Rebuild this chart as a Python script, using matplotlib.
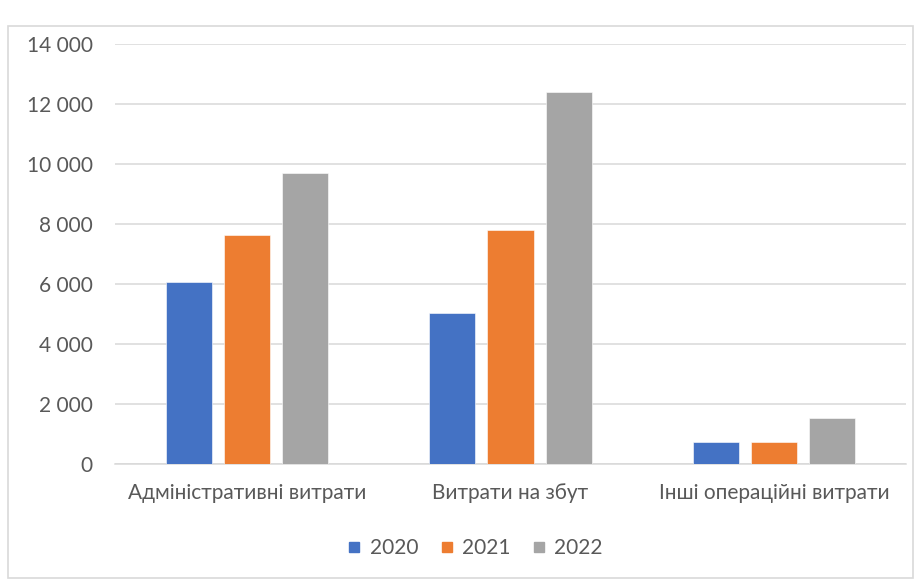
import matplotlib
matplotlib.use("Agg")
import matplotlib.pyplot as plt
import numpy as np
from matplotlib.lines import Line2D
from matplotlib.patches import Rectangle
from matplotlib.ticker import FuncFormatter

categories = ["Адміністративні витрати", "Витрати на збут", "Інші операційні витрати"]
years = ["2020", "2021", "2022"]
values_2020 = [6060, 5030, 730]
values_2021 = [7640, 7810, 730]
values_2022 = [9690, 12390, 1530]
y_ticks = [0, 2000, 4000, 6000, 8000, 10000, 12000, 14000]

COLOURS = ["#4472C4", "#ED7D31", "#A5A5A5"]
TEXT = "#595959"
GRID = "#D9D9D9"
FS = 15

plt.rcParams["font.family"] = ["Lato", "DejaVu Sans"]

W, H = 921, 584
fig = plt.figure(figsize=(W / 100, H / 100), dpi=100)

# chart frame
fig.patches.append(Rectangle((8 / W, 1 - 578 / H), 905 / W, 552 / H,
                             transform=fig.transFigure, fill=False,
                             edgecolor=GRID, linewidth=1.2))

ax = fig.add_axes([115 / W, 1 - 464 / H, 791 / W, 420 / H])
x = np.arange(len(categories))
step = 0.221
width = 0.1745
for i, (vals, col) in enumerate(zip([values_2020, values_2021, values_2022], COLOURS)):
    ax.bar(x + (i - 1) * step, vals, width=width, color=col,
           edgecolor="white", linewidth=0.4, zorder=3)

ax.set_xlim(-0.5, 2.5)
ax.set_ylim(0, 14000)
ax.set_yticks(y_ticks)
ax.yaxis.set_major_formatter(FuncFormatter(lambda v, _: f"{int(v):,}".replace(",", " ")))
ax.set_xticks(x)
ax.set_xticklabels(categories)
ax.grid(axis="y", color=GRID, linewidth=1.1, zorder=0)
for s in ["top", "right", "left"]:
    ax.spines[s].set_visible(False)
ax.spines["bottom"].set_color(GRID)
ax.spines["bottom"].set_linewidth(1.1)
ax.tick_params(axis="both", length=0, labelsize=FS, colors=TEXT)
ax.tick_params(axis="y", pad=16)
ax.tick_params(axis="x", pad=14)

# square legend keys
handles = [Line2D([], [], marker="s", linestyle="", markersize=6.5, color=c) for c in COLOURS]
leg = fig.legend(handles, years, loc="center", bbox_to_anchor=(476 / W, 1 - 548 / H), ncol=3,
                 frameon=False, fontsize=FS, handlelength=0.5,
                 handletextpad=0.5, columnspacing=1.1)
for t in leg.get_texts():
    t.set_color(TEXT)

fig.savefig("out.png", dpi=100)
